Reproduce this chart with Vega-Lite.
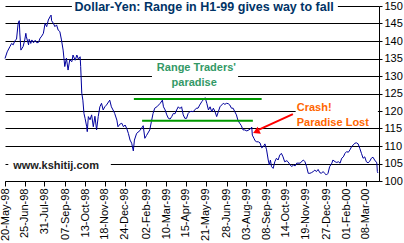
{
  "$schema": "https://vega.github.io/schema/vega-lite/v6.json",
  "width": 374,
  "height": 175,
  "autosize": {"type": "none"},
  "padding": {"left": 5, "top": 6, "right": 25, "bottom": 62},
  "background": "white",
  "config": {"view": {"stroke": null}, "font": "Liberation Sans"},
  "datasets": {
    "series": [
      {"date":"1998-05-20","value":135.0},{"date":"1998-05-24","value":136.9},{"date":"1998-05-29","value":138.4},{"date":"1998-06-01","value":139.3},{"date":"1998-06-04","value":138.9},{"date":"1998-06-07","value":140.1},{"date":"1998-06-10","value":140.5},{"date":"1998-06-13","value":145.1},{"date":"1998-06-15","value":145.8},{"date":"1998-06-16","value":142.3},{"date":"1998-06-18","value":137.4},{"date":"1998-06-22","value":138.4},{"date":"1998-06-25","value":140.3},{"date":"1998-06-27","value":142.2},{"date":"1998-06-28","value":141.2},{"date":"1998-07-02","value":138.9},{"date":"1998-07-03","value":140.5},{"date":"1998-07-06","value":139.3},{"date":"1998-07-08","value":140.3},{"date":"1998-07-11","value":139.5},{"date":"1998-07-14","value":140.2},{"date":"1998-07-17","value":139.5},{"date":"1998-07-20","value":139.6},{"date":"1998-07-23","value":140.8},{"date":"1998-07-26","value":141.4},{"date":"1998-07-29","value":142.2},{"date":"1998-08-01","value":145.0},{"date":"1998-08-04","value":144.1},{"date":"1998-08-07","value":146.0},{"date":"1998-08-10","value":146.9},{"date":"1998-08-12","value":147.4},{"date":"1998-08-13","value":145.8},{"date":"1998-08-16","value":145.1},{"date":"1998-08-19","value":144.1},{"date":"1998-08-22","value":144.6},{"date":"1998-08-25","value":143.1},{"date":"1998-08-28","value":142.7},{"date":"1998-08-31","value":140.3},{"date":"1998-09-03","value":137.4},{"date":"1998-09-06","value":132.7},{"date":"1998-09-09","value":135.1},{"date":"1998-09-12","value":131.7},{"date":"1998-09-15","value":134.6},{"date":"1998-09-19","value":134.1},{"date":"1998-09-21","value":136.0},{"date":"1998-09-25","value":134.5},{"date":"1998-09-28","value":136.0},{"date":"1998-10-01","value":134.8},{"date":"1998-10-04","value":135.5},{"date":"1998-10-05","value":132.7},{"date":"1998-10-07","value":125.1},{"date":"1998-10-09","value":123.1},{"date":"1998-10-11","value":119.3},{"date":"1998-10-13","value":117.9},{"date":"1998-10-16","value":115.5},{"date":"1998-10-17","value":114.1},{"date":"1998-10-19","value":118.4},{"date":"1998-10-22","value":117.5},{"date":"1998-10-25","value":118.9},{"date":"1998-10-28","value":115.5},{"date":"1998-10-31","value":118.5},{"date":"1998-11-03","value":114.6},{"date":"1998-11-06","value":118.4},{"date":"1998-11-09","value":121.2},{"date":"1998-11-12","value":122.2},{"date":"1998-11-15","value":120.3},{"date":"1998-11-18","value":121.2},{"date":"1998-11-21","value":121.7},{"date":"1998-11-27","value":123.1},{"date":"1998-11-30","value":121.2},{"date":"1998-12-03","value":120.3},{"date":"1998-12-06","value":119.3},{"date":"1998-12-10","value":117.4},{"date":"1998-12-12","value":115.5},{"date":"1998-12-16","value":116.3},{"date":"1998-12-19","value":116.5},{"date":"1998-12-22","value":115.5},{"date":"1998-12-25","value":116.0},{"date":"1998-12-28","value":115.0},{"date":"1998-12-31","value":113.6},{"date":"1999-01-03","value":111.7},{"date":"1999-01-06","value":110.8},{"date":"1999-01-09","value":108.6},{"date":"1999-01-11","value":111.7},{"date":"1999-01-15","value":113.6},{"date":"1999-01-21","value":114.4},{"date":"1999-01-27","value":115.8},{"date":"1999-01-30","value":112.2},{"date":"1999-02-02","value":113.0},{"date":"1999-02-08","value":114.6},{"date":"1999-02-11","value":117.0},{"date":"1999-02-14","value":119.3},{"date":"1999-02-17","value":120.8},{"date":"1999-02-21","value":121.2},{"date":"1999-02-27","value":122.2},{"date":"1999-03-03","value":123.1},{"date":"1999-03-05","value":121.2},{"date":"1999-03-08","value":120.3},{"date":"1999-03-11","value":118.9},{"date":"1999-03-14","value":117.9},{"date":"1999-03-17","value":117.7},{"date":"1999-03-20","value":118.4},{"date":"1999-03-23","value":119.3},{"date":"1999-03-26","value":119.2},{"date":"1999-03-29","value":120.3},{"date":"1999-04-01","value":121.2},{"date":"1999-04-04","value":120.7},{"date":"1999-04-07","value":121.2},{"date":"1999-04-10","value":118.9},{"date":"1999-04-13","value":117.9},{"date":"1999-04-16","value":117.9},{"date":"1999-04-19","value":119.3},{"date":"1999-04-22","value":119.8},{"date":"1999-04-25","value":119.9},{"date":"1999-04-28","value":119.8},{"date":"1999-05-01","value":120.3},{"date":"1999-05-04","value":120.8},{"date":"1999-05-07","value":120.8},{"date":"1999-05-10","value":121.7},{"date":"1999-05-14","value":122.7},{"date":"1999-05-16","value":123.1},{"date":"1999-05-20","value":123.8},{"date":"1999-05-23","value":122.2},{"date":"1999-05-26","value":120.3},{"date":"1999-05-29","value":121.2},{"date":"1999-06-01","value":119.8},{"date":"1999-06-04","value":120.8},{"date":"1999-06-07","value":119.8},{"date":"1999-06-10","value":118.4},{"date":"1999-06-13","value":119.8},{"date":"1999-06-16","value":121.2},{"date":"1999-06-19","value":121.7},{"date":"1999-06-22","value":122.2},{"date":"1999-06-25","value":121.9},{"date":"1999-06-28","value":122.2},{"date":"1999-07-01","value":122.1},{"date":"1999-07-04","value":121.7},{"date":"1999-07-07","value":120.8},{"date":"1999-07-10","value":120.8},{"date":"1999-07-13","value":119.8},{"date":"1999-07-16","value":118.9},{"date":"1999-07-19","value":117.2},{"date":"1999-07-22","value":116.5},{"date":"1999-07-25","value":115.8},{"date":"1999-07-28","value":114.6},{"date":"1999-07-31","value":114.6},{"date":"1999-08-04","value":114.3},{"date":"1999-08-10","value":114.8},{"date":"1999-08-13","value":115.4},{"date":"1999-08-14","value":113.1},{"date":"1999-08-17","value":112.2},{"date":"1999-08-19","value":111.5},{"date":"1999-08-22","value":111.2},{"date":"1999-08-25","value":111.2},{"date":"1999-08-28","value":110.9},{"date":"1999-08-31","value":109.5},{"date":"1999-09-03","value":109.8},{"date":"1999-09-06","value":110.6},{"date":"1999-09-09","value":108.9},{"date":"1999-09-12","value":106.0},{"date":"1999-09-14","value":104.6},{"date":"1999-09-16","value":106.0},{"date":"1999-09-18","value":104.1},{"date":"1999-09-21","value":103.6},{"date":"1999-09-24","value":105.5},{"date":"1999-09-27","value":106.5},{"date":"1999-09-30","value":106.0},{"date":"1999-10-03","value":107.4},{"date":"1999-10-06","value":107.9},{"date":"1999-10-09","value":106.9},{"date":"1999-10-12","value":105.5},{"date":"1999-10-16","value":105.8},{"date":"1999-10-18","value":105.5},{"date":"1999-10-22","value":104.6},{"date":"1999-10-25","value":104.1},{"date":"1999-10-28","value":104.6},{"date":"1999-10-31","value":104.3},{"date":"1999-11-03","value":105.1},{"date":"1999-11-09","value":105.1},{"date":"1999-11-15","value":106.0},{"date":"1999-11-18","value":105.5},{"date":"1999-11-21","value":104.1},{"date":"1999-11-24","value":102.2},{"date":"1999-11-27","value":102.2},{"date":"1999-11-30","value":102.4},{"date":"1999-12-03","value":102.7},{"date":"1999-12-06","value":103.1},{"date":"1999-12-09","value":102.7},{"date":"1999-12-12","value":103.3},{"date":"1999-12-15","value":102.4},{"date":"1999-12-18","value":102.2},{"date":"1999-12-21","value":102.7},{"date":"1999-12-24","value":102.2},{"date":"1999-12-27","value":101.7},{"date":"1999-12-30","value":102.2},{"date":"2000-01-02","value":104.1},{"date":"2000-01-06","value":105.1},{"date":"2000-01-08","value":106.0},{"date":"2000-01-12","value":105.5},{"date":"2000-01-15","value":105.3},{"date":"2000-01-18","value":105.5},{"date":"2000-01-21","value":105.1},{"date":"2000-01-24","value":106.5},{"date":"2000-01-27","value":106.9},{"date":"2000-01-30","value":107.9},{"date":"2000-02-02","value":108.4},{"date":"2000-02-05","value":108.2},{"date":"2000-02-08","value":108.9},{"date":"2000-02-11","value":109.8},{"date":"2000-02-14","value":110.3},{"date":"2000-02-17","value":110.8},{"date":"2000-02-20","value":110.9},{"date":"2000-02-23","value":110.6},{"date":"2000-02-26","value":109.3},{"date":"2000-02-29","value":107.9},{"date":"2000-03-03","value":106.5},{"date":"2000-03-06","value":106.9},{"date":"2000-03-09","value":105.5},{"date":"2000-03-12","value":105.2},{"date":"2000-03-15","value":105.6},{"date":"2000-03-18","value":106.5},{"date":"2000-03-21","value":106.8},{"date":"2000-03-24","value":106.0},{"date":"2000-03-28","value":105.2},{"date":"2000-03-29","value":102.7},{"date":"2000-03-30","value":102.3}
    ],
    "boxes": [
      {"date":"1998-09-19","date2":"2000-01-17","value":149.2,"value2":150.8},
      {"date":"1999-02-12","date2":"1999-07-19","value":129.3,"value2":130.7},
      {"date":"1999-11-01","date2":"2000-03-30","value":119.3,"value2":120.7},
      {"date":"1998-05-26","date2":"1998-11-29","value":104.3,"value2":105.7}
    ],
    "bands": [
      {"date":"1999-01-10","date2":"1999-08-31","value":123.4},
      {"date":"1999-01-25","date2":"1999-08-15","value":117.2}
    ],
    "arrow": [{"date":"1999-10-27","date2":"1999-08-26","value":119.1,"value2":114.7}],
    "arrowhead": [{"date":"1999-08-21","value":114.1}],
    "titleText": [{"label":"Dollar-Yen: Range in H1-99 gives way to fall","date":"1999-05-18","value":148.6}],
    "greenText": [{"label":"Range Traders'","date":"1999-05-04","value":131.5},{"label":"paradise","date":"1999-04-30","value":127.2}],
    "orangeText": [{"label":"Crash!","date":"1999-11-03","value":120.0},{"label":"Paradise Lost","date":"1999-11-03","value":115.8}],
    "siteText": [{"label":"www.kshitij.com","date":"1998-06-04","value":103.3}]
  },
  "encoding": {
    "x": {
      "field": "date", "type": "temporal",
      "scale": {"type": "utc", "domain": [{"year":1998,"month":5,"date":20,"utc":true},{"year":2000,"month":4,"date":1,"utc":true}]},
      "axis": {
        "title": null, "orient": "bottom", "grid": false,
        "values": [
          {"year":1998,"month":5,"date":20,"utc":true},{"year":1998,"month":6,"date":25,"utc":true},{"year":1998,"month":7,"date":31,"utc":true},{"year":1998,"month":9,"date":7,"utc":true},{"year":1998,"month":10,"date":13,"utc":true},{"year":1998,"month":11,"date":18,"utc":true},{"year":1998,"month":12,"date":24,"utc":true},{"year":1999,"month":2,"date":2,"utc":true},{"year":1999,"month":3,"date":10,"utc":true},{"year":1999,"month":4,"date":15,"utc":true},{"year":1999,"month":5,"date":21,"utc":true},{"year":1999,"month":6,"date":28,"utc":true},{"year":1999,"month":8,"date":3,"utc":true},{"year":1999,"month":9,"date":8,"utc":true},{"year":1999,"month":10,"date":14,"utc":true},{"year":1999,"month":11,"date":19,"utc":true},{"year":1999,"month":12,"date":27,"utc":true},{"year":2000,"month":2,"date":1,"utc":true},{"year":2000,"month":3,"date":8,"utc":true}
        ],
        "format": "%d-%b-%y", "labelAngle": 270, "labelAlign": "right", "labelBaseline": "middle",
        "labelFlush": false, "labelOverlap": false, "labelFontSize": 11, "labelColor": "#000000",
        "labelFont": "Liberation Sans", "labelPadding": 2, "tickSize": 5, "tickColor": "#000000",
        "domainColor": "#000000"
      }
    },
    "y": {
      "field": "value", "type": "quantitative",
      "scale": {"domain": [100, 150], "zero": false, "nice": false},
      "axis": {
        "title": null, "orient": "right", "values": [100,105,110,115,120,125,130,135,140,145,150],
        "grid": true, "gridColor": "#000000", "gridOpacity": 1, "gridWidth": 1,
        "labelOverlap": false, "labelFontSize": 11, "labelColor": "#000000", "labelFont": "Liberation Sans", "labelPadding": 2,
        "tickSize": 3, "tickColor": "#000000", "domainColor": "#000000"
      }
    }
  },
  "layer": [
    {
      "data": {"name": "series"},
      "mark": {"type": "line", "color": "#00009C", "strokeWidth": 1}
    },
    {
      "data": {"name": "boxes"},
      "mark": {"type": "rect", "fill": "white", "stroke": null},
      "encoding": {
        "x2": {"field": "date2"},
        "y2": {"field": "value2"}
      }
    },
    {
      "data": {"name": "bands"},
      "mark": {"type": "rule", "color": "#009900", "strokeWidth": 2},
      "encoding": {
        "x2": {"field": "date2"}
      }
    },
    {
      "data": {"name": "arrow"},
      "mark": {"type": "rule", "color": "#FF0000", "strokeWidth": 2},
      "encoding": {
        "x2": {"field": "date2"},
        "y2": {"field": "value2"}
      }
    },
    {
      "data": {"name": "arrowhead"},
      "mark": {"type": "point", "shape": "triangle-up", "filled": true, "color": "#FF0000", "size": 60, "angle": 245, "opacity": 1}
    },
    {
      "data": {"name": "titleText"},
      "mark": {"type": "text", "align": "center", "baseline": "alphabetic", "font": "Liberation Sans", "fontWeight": "bold", "fontSize": 12.5, "color": "#003366"},
      "encoding": {"text": {"field": "label"}}
    },
    {
      "data": {"name": "greenText"},
      "mark": {"type": "text", "align": "center", "baseline": "alphabetic", "font": "Liberation Sans", "fontWeight": "bold", "fontSize": 11, "color": "#339966"},
      "encoding": {"text": {"field": "label"}}
    },
    {
      "data": {"name": "orangeText"},
      "mark": {"type": "text", "align": "left", "baseline": "alphabetic", "font": "Liberation Sans", "fontWeight": "bold", "fontSize": 11, "color": "#FF6600"},
      "encoding": {"text": {"field": "label"}}
    },
    {
      "data": {"name": "siteText"},
      "mark": {"type": "text", "align": "left", "baseline": "alphabetic", "font": "Liberation Sans", "fontWeight": "bold", "fontSize": 11, "color": "#222222"},
      "encoding": {"text": {"field": "label"}}
    }
  ]
}
